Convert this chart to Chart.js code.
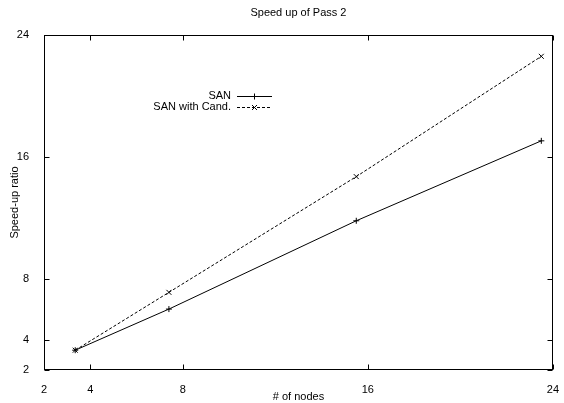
<!DOCTYPE html>
<html>
<head>
<meta charset="utf-8">
<script src="https://cdn.jsdelivr.net/npm/chart.js@4.4.0/dist/chart.umd.min.js"></script>
<style>
  html, body { margin: 0; padding: 0; background: #fff; }
  #wrap { width: 564px; height: 403px; }
</style>
</head>
<body>
<div id="wrap"><canvas id="speedup"></canvas></div>
<script>
// values
const nodes = [3.35, 7.4, 15.5, 23.5];
const sanRatio = [3.3, 6.0, 11.8, 17.05];
const candRatio = [3.3, 7.1, 14.7, 22.6];
const xTicks = [2, 4, 8, 16, 24];
const yTicks = [2, 4, 8, 16, 24];
const seriesNames = ["SAN", "SAN with Cand."];

const FONT = "'Liberation Sans', Arial, Helvetica, sans-serif";

function points(ys) {
    return nodes.map(function(n, i) { return { x: n, y: ys[i] }; });
}

// gnuplot style box with inward ticks on all four sides
const gnuplotFrame = {
    id: 'gnuplotFrame',
    afterDatasetsDraw(chart) {
        const ctx = chart.ctx;
        const a = chart.chartArea;
        const sx = chart.scales.x, sy = chart.scales.y;
        const L = Math.round(a.left) + 0.5, R = Math.round(a.right) - 0.5;
        const T = Math.round(a.top) + 0.5, B = Math.round(a.bottom) - 0.5;
        const tl = 5;
        ctx.save();
        ctx.strokeStyle = '#000';
        ctx.lineWidth = 1;
        ctx.setLineDash([]);
        ctx.beginPath();
        xTicks.forEach(function(v) {
            const px = Math.round(sx.getPixelForValue(v)) + 0.5;
            ctx.moveTo(px, B); ctx.lineTo(px, B - tl);
            ctx.moveTo(px, T); ctx.lineTo(px, T + tl);
        });
        yTicks.forEach(function(v) {
            const py = Math.round(sy.getPixelForValue(v)) + 0.5;
            ctx.moveTo(L, py); ctx.lineTo(L + tl, py);
            ctx.moveTo(R, py); ctx.lineTo(R - tl, py);
        });
        ctx.stroke();
        ctx.strokeRect(L, T, R - L, B - T);
        ctx.restore();
    }
};

// key inside the plot, text right aligned, sample line to the right
const gnuplotKey = {
    id: 'gnuplotKey',
    afterDraw(chart) {
        const ctx = chart.ctx;
        const textRight = 231, lineX0 = 237, lineX1 = 272;
        const rows = [96, 107];
        ctx.save();
        ctx.font = '11px ' + FONT;
        ctx.fillStyle = '#000';
        ctx.textAlign = 'right';
        ctx.textBaseline = 'middle';
        chart.data.datasets.forEach(function(ds, i) {
            const yy = rows[i] + 0.5;
            ctx.fillText(ds.label, textRight, rows[i]);
            ctx.strokeStyle = '#000';
            ctx.lineWidth = 1;
            ctx.setLineDash(ds.borderDash || []);
            ctx.beginPath();
            ctx.moveTo(lineX0, yy); ctx.lineTo(lineX1, yy);
            ctx.stroke();
            ctx.setLineDash([]);
            Chart.helpers.drawPoint(ctx, {
                pointStyle: ds.pointStyle, radius: ds.pointRadius, borderWidth: 1
            }, (lineX0 + lineX1) / 2, yy);
        });
        ctx.restore();
    }
};

new Chart(document.getElementById('speedup'), {
    type: 'line',
    data: {
        datasets: [
            {
                label: seriesNames[0],
                data: points(sanRatio),
                borderColor: '#000',
                backgroundColor: '#000',
                borderWidth: 1,
                pointStyle: 'cross',
                pointRadius: 3,
                pointBorderWidth: 1,
                tension: 0
            },
            {
                label: seriesNames[1],
                data: points(candRatio),
                borderColor: '#000',
                backgroundColor: '#000',
                borderWidth: 1,
                borderDash: [3, 2],
                pointStyle: 'crossRot',
                pointRadius: 3.5,
                pointBorderWidth: 1,
                tension: 0
            }
        ]
    },
    options: {
        responsive: true,
        maintainAspectRatio: false,
        animation: false,
        devicePixelRatio: 1,
        layout: { padding: { top: 0, right: 2, left: 0, bottom: 0 } },
        plugins: {
            legend: { display: false },
            tooltip: { enabled: false },
            title: {
                display: true,
                fullSize: false,
                text: 'Speed up of Pass 2',
                color: '#000',
                font: { family: FONT, size: 11, weight: 'normal' },
                padding: { top: 6, bottom: 15.8 }
            }
        },
        scales: {
            x: {
                type: 'linear',
                min: 2,
                max: 24,
                grid: { display: false },
                border: { display: false },
                afterBuildTicks: function(scale) {
                    scale.ticks = xTicks.map(function(v) { return { value: v }; });
                },
                afterFit: function(scale) { scale.height = 33; },
                ticks: {
                    color: '#000',
                    padding: 5,
                    font: { family: FONT, size: 11 },
                    maxRotation: 0
                },
                title: {
                    display: true,
                    text: '# of nodes',
                    color: '#000',
                    font: { family: FONT, size: 11 },
                    padding: { top: 0, bottom: -1 }
                }
            },
            y: {
                type: 'linear',
                min: 2,
                max: 24,
                grid: { display: false },
                border: { display: false },
                afterBuildTicks: function(scale) {
                    scale.ticks = yTicks.map(function(v) { return { value: v }; });
                },
                afterFit: function(scale) { scale.width = 44; },
                ticks: {
                    color: '#000',
                    padding: 7,
                    font: { family: FONT, size: 11 }
                },
                title: {
                    display: true,
                    text: 'Speed-up ratio',
                    color: '#000',
                    font: { family: FONT, size: 11 },
                    padding: { top: 8, bottom: 0 }
                }
            }
        }
    },
    plugins: [gnuplotFrame, gnuplotKey]
});
</script>
</body>
</html>
